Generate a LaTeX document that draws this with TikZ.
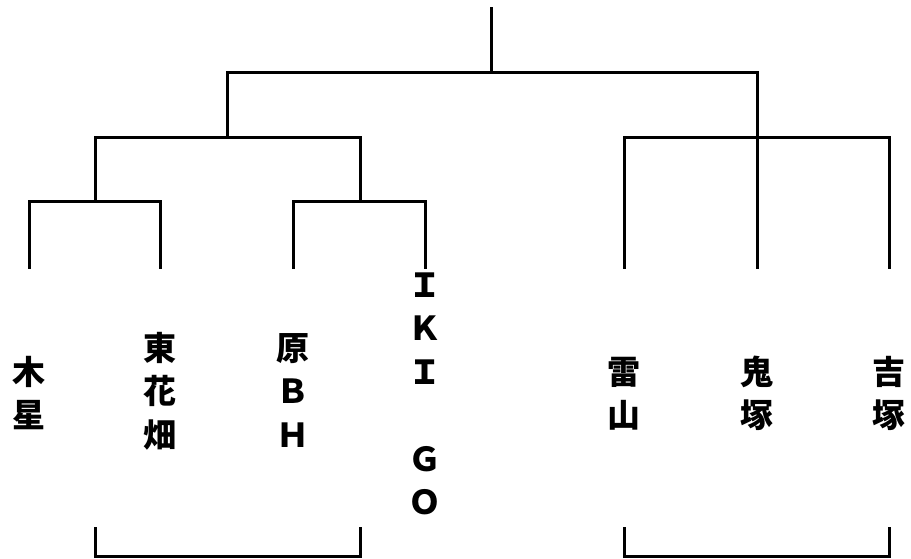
\documentclass[tikz,border=0pt]{standalone}
\usepackage{fontspec}
\newfontfamily\jp{Noto Sans CJK JP}
\begin{document}
\begin{tikzpicture}[x=1pt,y=-1pt,
  wire/.style={line width=3pt,line join=miter,line cap=rect},
  lbl/.style={anchor=base,align=center,inner sep=0pt,
    font=\jp\bfseries\fontsize{33}{43.5}\selectfont}]
\useasboundingbox (0,0) rectangle (911,559);
% tree junctions
\coordinate (root) at (491,9);
\coordinate (r1) at (491,72.5);
\coordinate (a) at (227,72.5);
\coordinate (b) at (757,72.5);
\coordinate (a1) at (95,138);
\coordinate (a2) at (360,138);
\coordinate (b1) at (624,138);
\coordinate (b3) at (889,138);
\coordinate (c1) at (29,202);
\coordinate (c2) at (160,202);
\coordinate (d1) at (293,202);
\coordinate (d2) at (425,202);
% leaf ends
\coordinate (l1) at (29,267);
\coordinate (l2) at (160,267);
\coordinate (l3) at (293,267);
\coordinate (l4) at (425,267);
\coordinate (l5) at (624,267);
\coordinate (l6) at (757,267);
\coordinate (l7) at (889,267);
% labels (anchor = baseline of the last line)
\node[lbl] (n1) at (29,427.5) {木\\星};
\node[lbl] (n2) at (160,447) {東\\花\\畑};
\node[lbl] (n3) at (293,447) {原\\Ｂ\\Ｈ};
\node[lbl] (n4) at (425,514.5) {Ｉ\\Ｋ\\Ｉ\\\mbox{}\\Ｇ\\Ｏ};
\node[lbl] (n5) at (624,427.5) {雷\\山};
\node[lbl] (n6) at (757,427.5) {鬼\\塚};
\node[lbl] (n7) at (889,427.5) {吉\\塚};
% connectors
\draw[wire] (root) -- (r1);
\draw[wire] (a) -- (b);
\draw[wire] (a) -- (a1 -| a);
\draw[wire] (b) -- (l6);
\draw[wire] (a1) -- (a2);
\draw[wire] (b1) -- (b3);
\draw[wire] (a1) -- (c1 -| a1);
\draw[wire] (a2) -- (d1 -| a2);
\draw[wire] (l1) -- (c1) -- (c2) -- (l2);
\draw[wire] (l3) -- (d1) -- (d2) -- (l4);
\draw[wire] (b1) -- (l5);
\draw[wire] (b3) -- (l7);
% bottom brackets
\coordinate (p1) at (95,527);
\coordinate (p2) at (360,527);
\coordinate (q1) at (624,527);
\coordinate (q2) at (889,527);
\draw[wire,line cap=butt] (p1) -- (p1 |- 0,556.5) -- (p2 |- 0,556.5) -- (p2);
\draw[wire,line cap=butt] (q1) -- (q1 |- 0,556.5) -- (q2 |- 0,556.5) -- (q2);
\end{tikzpicture}
\end{document}
